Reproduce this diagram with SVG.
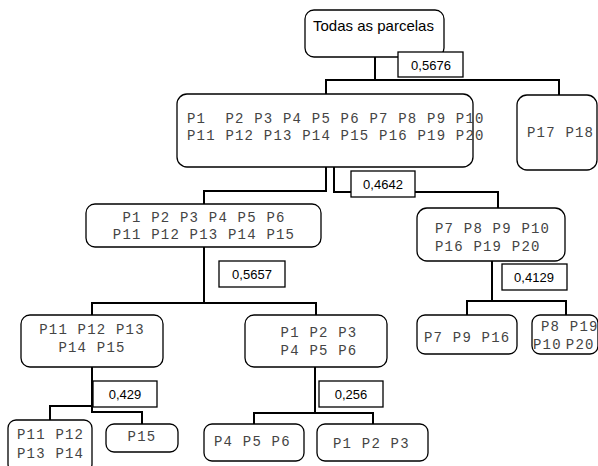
<svg xmlns="http://www.w3.org/2000/svg" width="598" height="466" viewBox="0 0 598 466">
<style>
.n{fill:#fff;stroke:#000;stroke-width:1.3}
.lb{fill:#fff;stroke:#000;stroke-width:1.3}
.m{font-family:"Liberation Mono","Courier New",monospace;font-size:14px;letter-spacing:1.2px;fill:#444;white-space:pre}
.s{font-family:"Liberation Sans",Arial,sans-serif;fill:#000}
.lt{font-family:"Liberation Sans",Arial,sans-serif;font-size:13px;fill:#000;text-anchor:middle}
.c{fill:none;stroke:#000;stroke-width:2}
</style>
<rect width="598" height="466" fill="#fff"/>
<g id="connectors">
<path class="c" d="M375 57V80H326V94M375 80H559V95"/>
<path class="c" d="M326 167V191H204V204"/>
<path class="c" d="M334 167V192H498V208"/>
<path class="c" d="M204 247V303H92V315M204 303H316V315"/>
<path class="c" d="M492 261V301H467V315M492 301H566V315"/>
<path class="c" d="M92 367V412H142V424M92 406H50V420"/>
<path class="c" d="M315 367V413H254V424M315 413H373V424"/>
</g>
<g id="root">
<rect class="n" x="305" y="10" width="139" height="47" rx="9"/>
<text class="s" x="313" y="31" font-size="15">Todas as parcelas</text>
</g>
<g id="lbl1">
<rect class="lb" x="398" y="52" width="65" height="25"/>
<text class="lt" x="431" y="70">0,5676</text>
</g>
<g id="n_all">
<rect class="n" x="177" y="94" width="296" height="73" rx="10"/>
<text class="m" x="187" y="123" font-size="13.5" letter-spacing="1.1">P1  P2 P3 P4 P5 P6 P7 P8 P9 P10</text>
<text class="m" x="187" y="140" font-size="13.5" letter-spacing="1.1">P11 P12 P13 P14 P15 P16 P19 P20</text>
</g>
<g id="n_p17">
<rect class="n" x="517" y="95" width="80" height="75" rx="10"/>
<text class="m" x="527" y="137">P17 P18</text>
</g>
<g id="lbl2">
<rect class="lb" x="351" y="171" width="64" height="26"/>
<text class="lt" x="383" y="189">0,4642</text>
</g>
<g id="n_p1_15">
<rect class="n" x="86" y="204" width="235" height="43" rx="9"/>
<text class="m" x="204" y="222" text-anchor="middle">P1 P2 P3 P4 P5 P6</text>
<text class="m" x="204" y="239" text-anchor="middle">P11 P12 P13 P14 P15</text>
</g>
<g id="n_p7">
<rect class="n" x="417" y="208" width="148" height="53" rx="10"/>
<text class="m" x="435" y="233">P7 P8 P9 P10</text>
<text class="m" x="435" y="251">P16 P19 P20</text>
</g>
<g id="lbl3">
<rect class="lb" x="219" y="261" width="66" height="26"/>
<text class="lt" x="252" y="279">0,5657</text>
</g>
<g id="lbl4">
<rect class="lb" x="502" y="264" width="65" height="26"/>
<text class="lt" x="534" y="282">0,4129</text>
</g>
<g id="n_p11_15">
<rect class="n" x="21" y="315" width="142" height="52" rx="9"/>
<text class="m" x="92" y="334" text-anchor="middle">P11 P12 P13</text>
<text class="m" x="92" y="352" text-anchor="middle">P14 P15</text>
</g>
<g id="n_p1_6">
<rect class="n" x="245" y="315" width="142" height="52" rx="9"/>
<text class="m" x="319" y="337" text-anchor="middle">P1 P2 P3</text>
<text class="m" x="319" y="355" text-anchor="middle">P4 P5 P6</text>
</g>
<g id="n_p7_9_16">
<rect class="n" x="417" y="315" width="100" height="39" rx="8"/>
<text class="m" x="424" y="342">P7 P9 P16</text>
</g>
<g id="n_p8">
<rect class="n" x="532" y="315" width="66" height="39" rx="8"/>
<text class="m" x="541" y="331" font-size="13" letter-spacing="0.9">P8 P19</text>
<text class="m" x="533" y="349" font-size="13" letter-spacing="0.9">P10<tspan dx="4">P20</tspan></text>
</g>
<g id="lbl5">
<rect class="lb" x="93" y="381" width="64" height="26"/>
<text class="lt" x="125" y="399">0,429</text>
</g>
<g id="lbl6">
<rect class="lb" x="319" y="381" width="64" height="26"/>
<text class="lt" x="351" y="399">0,256</text>
</g>
<g id="n_p11_14">
<rect class="n" x="8" y="420" width="84" height="52" rx="8"/>
<text class="m" x="17" y="439">P11 P12</text>
<text class="m" x="17" y="458">P13 P14</text>
</g>
<g id="n_p15">
<rect class="n" x="106" y="424" width="72" height="28" rx="8"/>
<text class="m" x="142" y="441" text-anchor="middle">P15</text>
</g>
<g id="n_p4_6">
<rect class="n" x="204" y="424" width="100" height="37" rx="8"/>
<text class="m" x="214" y="446">P4 P5 P6</text>
</g>
<g id="n_p1_3">
<rect class="n" x="317" y="424" width="111" height="37" rx="8"/>
<text class="m" x="333" y="448">P1 P2 P3</text>
</g>
</svg>
